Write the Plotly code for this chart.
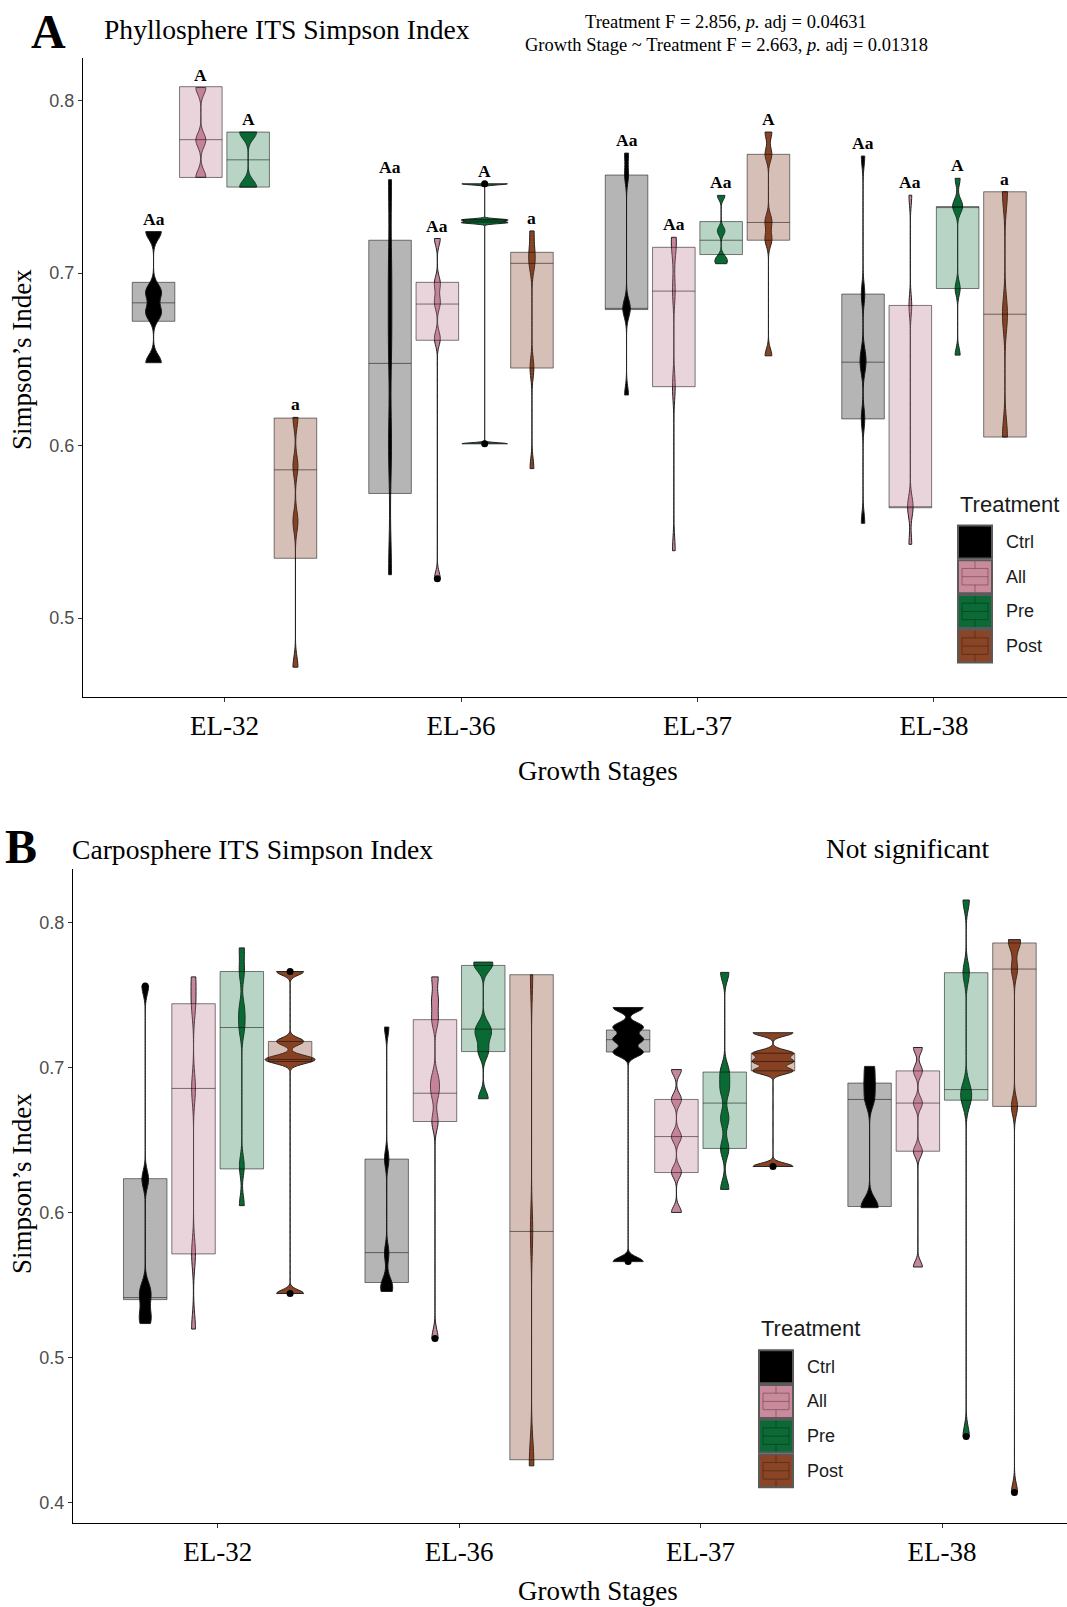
import plotly.graph_objects as go

W, H = 1067, 1607

stages = ["EL-32", "EL-36", "EL-37", "EL-38"]
treatments = ["Ctrl", "All", "Pre", "Post"]

# ---------------- Panel A (Phyllosphere) : violin samples ----------------
A_ctrl = [[0.648, 0.677, 0.689, 0.724],
          [0.5251, 0.600, 0.660, 0.700, 0.7541],
          [0.6293, 0.6788, 0.6800, 0.7568, 0.7695],
          [0.5549, 0.6154, 0.646, 0.652, 0.6878, 0.7678]]
A_all = [[0.7555, 0.777, 0.8075],
         [0.5227, 0.662, 0.683, 0.694, 0.720],
         [0.539, 0.634, 0.690, 0.715, 0.7207],
         [0.5427, 0.5639, 0.5650, 0.6812, 0.7451]]
A_pre = [[0.7498, 0.7817],
         [0.601, 0.7292, 0.7308, 0.7517],
         [0.7054, 0.7085, 0.7244, 0.745],
         [0.6524, 0.691, 0.7385, 0.7390, 0.7549]]
A_post = [[0.4715, 0.556, 0.588, 0.6163],
          [0.5866, 0.645, 0.705, 0.712, 0.7244],
          [0.652, 0.7195, 0.7300, 0.7688, 0.7817],
          [0.6049, 0.6761, 0.7471]]

# box statistics [q1, median, q3]
A_box_ctrl = [[0.672, 0.6827, 0.6946], [0.5722, 0.6476, 0.719], [0.6788, 0.6795, 0.7568], [0.6154, 0.6483, 0.6878]]
A_box_all = [[0.7554, 0.7773, 0.808], [0.661, 0.682, 0.6946], [0.6341, 0.6895, 0.7149], [0.5639, 0.5644, 0.6812]]
A_box_pre = [[0.7498, 0.7656, 0.7817], [0.7295, 0.7302, 0.731], [0.7107, 0.719, 0.7298], [0.691, 0.7385, 0.7385]]
A_box_post = [[0.5346, 0.5859, 0.6159], [0.6449, 0.7056, 0.712], [0.719, 0.7293, 0.7688], [0.6049, 0.6761, 0.7471]]

A_out_stage = ["EL-36", "EL-36", "EL-36"]
A_out_treat = ["All", "Pre", "Pre"]
A_out_val = [0.5227, 0.601, 0.7517]

A_letters_ctrl = ["Aa", "Aa", "Aa", "Aa"]
A_letters_all = ["A", "Aa", "Aa", "Aa"]
A_letters_pre = ["A", "A", "Aa", "A"]
A_letters_post = ["a", "a", "A", "a"]

# ---------------- Panel B (Carposphere) ----------------
B_ctrl = [[0.5235, 0.530, 0.541, 0.548, 0.623, 0.7563],
          [0.5456, 0.548, 0.5515, 0.572, 0.637, 0.7279],
          [0.5662, 0.7105, 0.7195, 0.728, 0.7414],
          [0.6034, 0.6045, 0.678, 0.6893, 0.7008]]
B_all = [[0.5197, 0.5715, 0.6856, 0.744, 0.7625],
         [0.5132, 0.6628, 0.6823, 0.692, 0.733, 0.7467, 0.7625],
         [0.6001, 0.628, 0.6524, 0.678, 0.6986],
         [0.5625, 0.6423, 0.6755, 0.6977, 0.7138]]
B_pre = [[0.6048, 0.632, 0.7276, 0.740, 0.7662, 0.7825],
         [0.6785, 0.711, 0.722, 0.728, 0.7704, 0.7727],
         [0.616, 0.644, 0.665, 0.685, 0.697, 0.7656],
         [0.4456, 0.6775, 0.6848, 0.7654, 0.8155]]
B_post = [[0.5442, 0.7045, 0.7065, 0.718, 0.7662],
          [0.4254, 0.4296, 0.587, 0.7639],
          [0.6318, 0.6977, 0.7042, 0.7099, 0.724],
          [0.407, 0.6732, 0.7679, 0.7859, 0.7882]]

B_box_ctrl = [[0.54, 0.5414, 0.6234], [0.5518, 0.5724, 0.6369], [0.7107, 0.7192, 0.7259], [0.6042, 0.678, 0.6893]]
B_box_all = [[0.5715, 0.6856, 0.744], [0.6628, 0.6823, 0.733], [0.6276, 0.6524, 0.678], [0.6423, 0.6755, 0.6977]]
B_box_pre = [[0.6301, 0.7276, 0.7662], [0.711, 0.7265, 0.7704], [0.6442, 0.6755, 0.6969], [0.6775, 0.6848, 0.7654]]
B_box_post = [[0.7042, 0.7056, 0.718], [0.4296, 0.587, 0.764], [0.6977, 0.7042, 0.7099], [0.6732, 0.7679, 0.7859]]

B_out_stage = ["EL-32", "EL-32", "EL-32", "EL-36", "EL-37", "EL-37", "EL-38", "EL-38"]
B_out_treat = ["Ctrl", "Post", "Post", "All", "Ctrl", "Post", "Pre", "Post"]
B_out_val = [0.7563, 0.5442, 0.7662, 0.5132, 0.5662, 0.6318, 0.4456, 0.407]

# ---------------- styles ----------------
violin_col = ["#000000", "#c7879b", "#0a6a34", "#8a4424"]
box_fill = ["rgba(0,0,0,0.29)", "rgba(190,125,145,0.33)", "rgba(10,106,52,0.29)", "rgba(128,62,34,0.33)"]
key_fill = ["#000000", "#c98a9c", "#0b6a35", "#8a4526"]
offsets = [-0.3, -0.1, 0.1, 0.3]

# KDE bandwidths and max violin widths (px) per [treatment][stage]
A_bw = [[0.0045, 0.02, 0.005, 0.006],
        [0.004, 0.004, 0.008, 0.006],
        [0.004, 0.0006, 0.0025, 0.004],
        [0.006, 0.006, 0.004, 0.01]]
A_vw = [[16, 3.5, 7.5, 6],
        [10, 6, 5, 5.5],
        [17, 47, 12.5, 10],
        [5, 6.5, 7, 5]]
B_bw = [[0.006, 0.006, 0.003, 0.006],
        [0.01, 0.006, 0.004, 0.004],
        [0.007, 0.005, 0.006, 0.007],
        [0.0025, 0.015, 0.0022, 0.006]]
B_vw = [[12, 12, 31, 17],
        [5, 9, 10, 9],
        [6.5, 19, 10, 11],
        [50, 4.5, 42, 12]]

# geometry (pixels)
A_left, A_top, A_bottom = 83, 58, 697
B_left, B_top, B_bottom = 73, 869, 1523
A_xr = [0.4017, 4.5624]
A_yr = [0.4542, 0.82464]
B_xr = [0.4008, 4.5176]
B_yr = [0.3860, 0.83688]

SERIF = "Liberation Serif, Times New Roman, serif"
SANS = "Liberation Sans, Arial, sans-serif"

fig = go.Figure()


def add_panel(samples, boxes, bws, vws, outs, xr, left, xa, ya, letters=None):
    px_per_unit = (W - left) / (xr[1] - xr[0])
    # violins
    for ti in range(4):
        for si in range(4):
            pos = si + 1 + offsets[ti]
            fig.add_trace(go.Violin(
                x0=pos, y=samples[ti][si], xaxis=xa, yaxis=ya,
                bandwidth=bws[ti][si], spanmode="hard", scalemode="width",
                width=vws[ti][si] / px_per_unit, points=False,
                fillcolor=violin_col[ti], line=dict(color="#222222", width=1),
                opacity=1, showlegend=False, hoverinfo="skip"))
    # boxes on top
    for ti in range(4):
        for si in range(4):
            pos = si + 1 + offsets[ti]
            q1, med, q3 = boxes[ti][si]
            fig.add_trace(go.Box(
                x=[pos], q1=[q1], median=[med], q3=[q3], lowerfence=[q1], upperfence=[q3],
                xaxis=xa, yaxis=ya, width=0.18, whiskerwidth=0, boxpoints=False,
                fillcolor=box_fill[ti], line=dict(color="rgba(0,0,0,0.5)", width=1),
                showlegend=False, hoverinfo="skip"))
    # outlier points
    st, tr, vals = outs
    xs = [stages.index(s) + 1 + offsets[treatments.index(t)] for s, t in zip(st, tr)]
    fig.add_trace(go.Scatter(x=xs, y=vals, mode="markers", xaxis=xa, yaxis=ya,
                             marker=dict(color="black", size=7), showlegend=False, hoverinfo="skip"))
    if letters:
        for ti in range(4):
            for si in range(4):
                pos = si + 1 + offsets[ti]
                fig.add_annotation(x=pos, y=max(samples[ti][si]), xref=xa, yref=ya,
                                   text="<b>" + letters[ti][si] + "</b>", showarrow=False,
                                   yanchor="middle", yshift=13,
                                   font=dict(family=SERIF, size=17.5, color="black"))


add_panel([A_ctrl, A_all, A_pre, A_post], [A_box_ctrl, A_box_all, A_box_pre, A_box_post],
          A_bw, A_vw, (A_out_stage, A_out_treat, A_out_val), A_xr, A_left, "x", "y",
          [A_letters_ctrl, A_letters_all, A_letters_pre, A_letters_post])
add_panel([B_ctrl, B_all, B_pre, B_post], [B_box_ctrl, B_box_all, B_box_pre, B_box_post],
          B_bw, B_vw, (B_out_stage, B_out_treat, B_out_val), B_xr, B_left, "x2", "y2")


def px(x):
    return x / W


def py(y):
    return 1 - y / H


common_x = dict(tickmode="array", tickvals=[1, 2, 3, 4], ticktext=stages, ticks="outside",
                ticklen=4, tickcolor="#333333", showline=True, linecolor="black", linewidth=1.3,
                showgrid=False, zeroline=False,
                tickfont=dict(family=SERIF, size=27, color="black"))
common_y = dict(tickmode="array", ticks="outside", ticklen=4, tickcolor="#333333",
                showline=True, linecolor="black", linewidth=1.3, showgrid=False, zeroline=False,
                tickfont=dict(family=SANS, size=18, color="#4d4d4d"))

fig.update_layout(
    width=W, height=H, margin=dict(l=0, r=0, t=0, b=0),
    plot_bgcolor="white", paper_bgcolor="white", showlegend=False,
    violinmode="overlay", boxmode="overlay",
    xaxis=dict(domain=[px(A_left), 1], range=A_xr, anchor="y", **common_x),
    yaxis=dict(domain=[py(A_bottom), py(A_top)], range=A_yr, anchor="x",
               tickvals=[0.5, 0.6, 0.7, 0.8], ticktext=["0.5", "0.6", "0.7", "0.8"], **common_y),
    xaxis2=dict(domain=[px(B_left), 1], range=B_xr, anchor="y2", **common_x),
    yaxis2=dict(domain=[py(B_bottom), py(B_top)], range=B_yr, anchor="x2",
                tickvals=[0.4, 0.5, 0.6, 0.7, 0.8], ticktext=["0.4", "0.5", "0.6", "0.7", "0.8"], **common_y),
)


def txt(x, y, s, size, family=SERIF, xanchor="center", color="black", angle=0, bold=False):
    if bold:
        s = "<b>" + s + "</b>"
    fig.add_annotation(x=px(x), y=py(y), xref="paper", yref="paper", text=s, showarrow=False,
                       xanchor=xanchor, yanchor="middle", textangle=angle,
                       font=dict(family=family, size=size, color=color))


# titles / labels panel A
txt(48, 31, "A", 48, bold=True)
txt(102, 29, "Phyllosphere ITS Simpson Index", 27.6, xanchor="left")
txt(726, 22, "Treatment F = 2.856, <i>p.</i> adj = 0.04631", 18.5)
txt(726, 45, "Growth Stage ~ Treatment F = 2.663, <i>p.</i> adj = 0.01318", 18.5)
txt(22, 360, "Simpson\u2019s Index", 27, angle=-90)
txt(598, 771, "Growth Stages", 27)
# panel B
txt(21, 847, "B", 48, bold=True)
txt(70, 849, "Carposphere ITS Simpson Index", 27.6, xanchor="left")
txt(907, 849, "Not significant", 27.3)
txt(22, 1184, "Simpson\u2019s Index", 27, angle=-90)
txt(598, 1591, "Growth Stages", 27)

# manual legends
def legend(x0, title_y, top0):
    txt(x0, title_y, "Treatment", 22, family=SANS, xanchor="left", color="#1a1a1a")
    kw, kh, step = 34, 33, 34.7
    for i, name in enumerate(treatments):
        t = top0 + i * step
        fig.add_shape(type="rect", xref="paper", yref="paper",
                      x0=px(x0), x1=px(x0 + kw), y0=py(t + kh), y1=py(t),
                      fillcolor=key_fill[i], line=dict(color="#5a5a5a", width=2))
        gl = "rgba(0,0,0,0.3)"
        fig.add_shape(type="rect", xref="paper", yref="paper",
                      x0=px(x0 + 4), x1=px(x0 + kw - 4), y0=py(t + 0.75 * kh), y1=py(t + 0.25 * kh),
                      line=dict(color=gl, width=1))
        fig.add_shape(type="line", xref="paper", yref="paper",
                      x0=px(x0 + 4), x1=px(x0 + kw - 4), y0=py(t + 0.5 * kh), y1=py(t + 0.5 * kh),
                      line=dict(color=gl, width=1))
        fig.add_shape(type="line", xref="paper", yref="paper",
                      x0=px(x0 + kw / 2), x1=px(x0 + kw / 2), y0=py(t + 1), y1=py(t + 0.25 * kh),
                      line=dict(color=gl, width=1))
        fig.add_shape(type="line", xref="paper", yref="paper",
                      x0=px(x0 + kw / 2), x1=px(x0 + kw / 2), y0=py(t + 0.75 * kh), y1=py(t + kh - 1),
                      line=dict(color=gl, width=1))
        txt(x0 + 46, t + kh / 2, name, 18, family=SANS, xanchor="left", color="#1a1a1a")


legend(958, 504, 525.5)
legend(759, 1328, 1350.2)

fig.write_html("out.html")
